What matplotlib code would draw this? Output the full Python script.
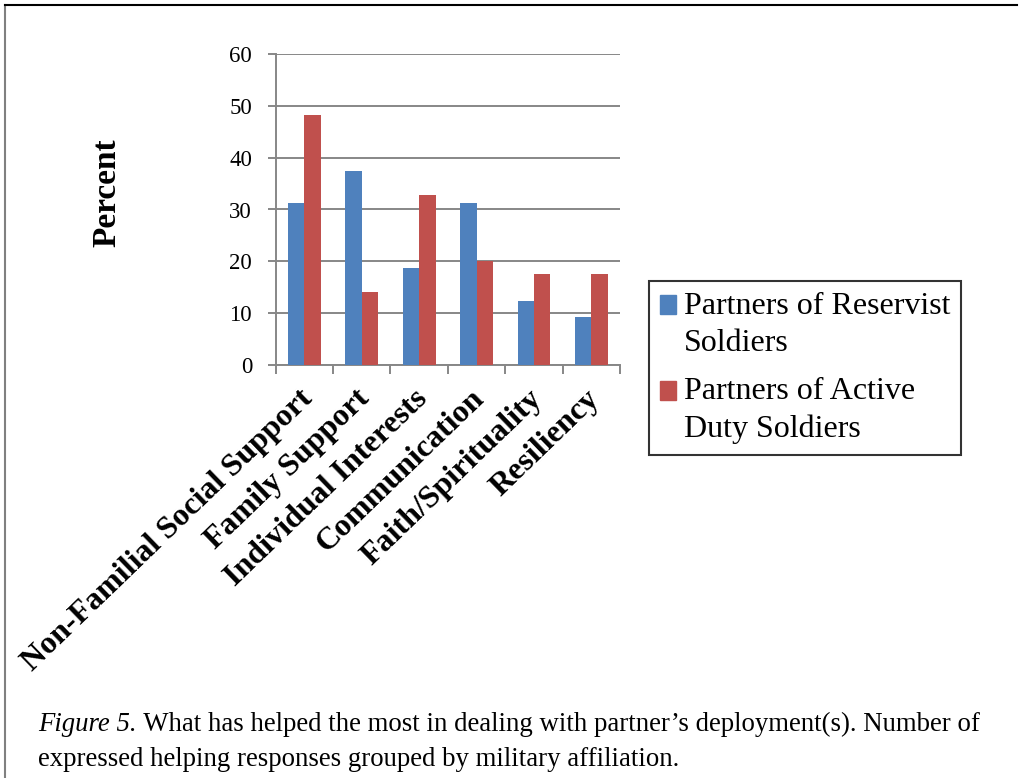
import numpy as np
import matplotlib
matplotlib.use('Agg')
import matplotlib.pyplot as plt
from matplotlib.lines import Line2D
from matplotlib.legend_handler import HandlerPatch

# --------------------------------------------------------------------------- #
# Data
# --------------------------------------------------------------------------- #
categories = ["Non-Familial Social Support", "Family Support",
              "Individual Interests", "Communication",
              "Faith/Spirituality", "Resiliency"]
reservist = [31.2, 37.4, 18.7, 31.2, 12.4, 9.3]
active = [48.2, 14.0, 32.8, 20.0, 17.5, 17.5]
series_labels = ["Partners of Reservist\nSoldiers",
                 "Partners of Active\nDuty Soldiers"]
yticks = [0, 10, 20, 30, 40, 50, 60]

# --------------------------------------------------------------------------- #
# Style
# --------------------------------------------------------------------------- #
plt.rcParams['font.family'] = ['Liberation Serif', 'DejaVu Serif']
blue = '#4F81BD'
red = '#C0504D'
grid_col = '#878787'
W, H = 1019, 778

fig = plt.figure(figsize=(W / 100, H / 100), dpi=100)
fig.patch.set_facecolor('white')

ax = fig.add_axes([275.7 / W, 1 - 364.7 / H, (620 - 275.7) / W, (364.7 - 54.3) / H])

x = np.arange(len(categories))
bw = 1 / 3.5
ax.bar(x - bw / 2, reservist, width=bw, color=blue, zorder=3)
ax.bar(x + bw / 2, active, width=bw, color=red, zorder=3)

ax.set_xlim(-0.5, len(categories) - 0.5)
ax.set_ylim(0, 60)
ax.set_yticks(yticks)
ax.set_yticklabels([str(v) for v in yticks], fontsize=16.5)
ax.yaxis.grid(True, color=grid_col, linewidth=1.4, zorder=0)
ax.set_axisbelow(True)

# category boundaries get the tick marks, labels are placed under the centres
ax.set_xticks(np.arange(len(categories) + 1) - 0.5)
ax.set_xticklabels([])
for i, cat in enumerate(categories):
  ax.annotate(cat, xy=(x[i], 0), xycoords=('data', 'axes fraction'),
              xytext=(-4.5, -14), textcoords='offset points',
              fontsize=23, fontweight='bold', rotation=44,
              ha='right', va='top', rotation_mode='anchor',
              annotation_clip=False)
ax.tick_params(axis='x', which='major', length=6.5, width=1.4, color=grid_col)
ax.tick_params(axis='y', length=6, width=1.4, color=grid_col, pad=11)

for s in ['top', 'right']:
  ax.spines[s].set_visible(False)
for s in ['left', 'bottom']:
  ax.spines[s].set_color(grid_col)
  ax.spines[s].set_linewidth(1.4)

fig.text(107 / W, 1 - 193 / H, "Percent", fontsize=24, fontweight='bold',
         rotation=90, ha='center', va='center')

# legend -- square lined up with the first line of each two-line label
def squareAtTop(legend, orig_handle, xdescent, ydescent, width, height, fontsize):
  return plt.Rectangle((-xdescent, -ydescent + 0.62 * fontsize), width, height)

handles = [plt.Rectangle((0, 0), 1, 1, color=blue),
           plt.Rectangle((0, 0), 1, 1, color=red)]
leg = fig.legend(handles, series_labels, loc='upper left',
                 bbox_to_anchor=(649 / W, 1 - 281 / H), fontsize=23,
                 frameon=True, fancybox=False, edgecolor='black',
                 handlelength=0.5, handleheight=0.5, handletextpad=0.25,
                 borderpad=0.33, labelspacing=0.6, borderaxespad=0,
                 handler_map={plt.Rectangle: HandlerPatch(patch_func=squareAtTop)})
leg.get_frame().set_linewidth(1.5)
for t in leg.get_texts():
  t.set_linespacing(1.38)

# caption
t1 = fig.text(38 / W, 1 - 731 / H, "Figure 5.", fontsize=19.25, style='italic',
              ha='left', va='baseline')
ax.annotate(" What has helped the most in dealing with partner\u2019s deployment(s). Number of",
            xy=(1, 0), xycoords=t1, ha='left', va='bottom', fontsize=19.25,
            annotation_clip=False)
fig.text(38 / W, 1 - 766 / H, "expressed helping responses grouped by military affiliation.",
         fontsize=19.25, ha='left', va='baseline')

# page borders
fig.add_artist(Line2D([5 / W, 5 / W], [0, 1 - 5 / H], color='#808080', linewidth=1.5))
fig.add_artist(Line2D([5 / W, 1017 / W], [1 - 5 / H, 1 - 5 / H], color='black', linewidth=1.5))

fig.savefig('out.png', dpi=100)
